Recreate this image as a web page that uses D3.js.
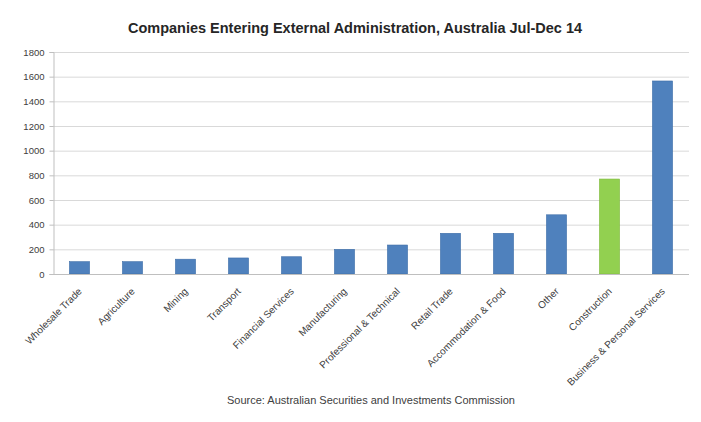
<!DOCTYPE html>
<html>
<head>
<meta charset="utf-8">
<script src="https://cdn.jsdelivr.net/npm/d3@7"></script>
<style>
  body { margin: 0; background: #fff; }
  svg { font-family: "Liberation Sans", Arial, sans-serif; }
</style>
</head>
<body>
<div id="chart"></div>
<script>
// values
const industries = [
  "Wholesale Trade", "Agriculture", "Mining", "Transport",
  "Financial Services", "Manufacturing", "Professional & Technical",
  "Retail Trade", "Accommodation & Food", "Other", "Construction",
  "Business & Personal Services"
]
const companies = [100, 100, 120, 130, 140, 200, 235, 330, 330, 480, 770, 1565]
const highlight = "Construction"
const yTicks = [0, 200, 400, 600, 800, 1000, 1200, 1400, 1600, 1800]

const width = 701
const height = 422
const margin = {top: 52, right: 12, bottom: 148, left: 53}

const svg = d3.select("#chart").append("svg")
    .attr("width", width)
    .attr("height", height)

const xScale = d3.scaleBand()
    .domain(industries)
    .range([margin.left, width - margin.right])
    .paddingInner(0.62)
    .paddingOuter(0.31)

const yScale = d3.scaleLinear()
    .domain([0, 1800])
    .range([height - margin.bottom, margin.top])

// gridlines
svg.append("g")
    .selectAll("line")
    .data(yTicks)
    .enter().append("line")
    .attr("x1", margin.left)
    .attr("x2", width - margin.right)
    .attr("y1", d => yScale(d) + 0.5)
    .attr("y2", d => yScale(d) + 0.5)
    .style("stroke", "#d9d9d9")
    .style("stroke-width", 1)

// y axis
const yAxis = svg.append("g")
    .attr("transform", `translate(${margin.left + 0.5},0)`)
    .call(d3.axisLeft(yScale).tickValues(yTicks).tickFormat(d3.format("d")).tickSize(4).tickPadding(5))
yAxis.select(".domain").style("stroke", "#bfbfbf")
yAxis.selectAll(".tick line").style("stroke", "#bfbfbf")
yAxis.selectAll("text").style("font-size", "9.5px").style("fill", "#404040")

// bars
svg.append("g")
    .selectAll("rect")
    .data(industries)
    .enter().append("rect")
    .attr("x", d => xScale(d))
    .attr("y", (d, i) => yScale(companies[i]))
    .attr("width", xScale.bandwidth())
    .attr("height", (d, i) => yScale(0) - yScale(companies[i]))
    .style("fill", d => d == highlight ? "#92d050" : "#4f81bd")
    .style("stroke", d => d == highlight ? "#7fba3c" : "#3f6fa8")
    .style("stroke-width", 0.6)

// x axis line
svg.append("line")
    .attr("x1", margin.left)
    .attr("x2", width - margin.right)
    .attr("y1", yScale(0) + 0.5)
    .attr("y2", yScale(0) + 0.5)
    .style("stroke", "#bfbfbf")

// category labels, slanted
svg.append("g")
    .selectAll("text")
    .data(industries)
    .enter().append("text")
    .attr("transform", d => `translate(${xScale(d) + xScale.bandwidth() / 2 + 3},${yScale(0) + 18}) rotate(-45)`)
    .attr("text-anchor", "end")
    .style("font-size", "10px")
    .style("fill", "#404040")
    .text(d => d)

// title
svg.append("text")
    .attr("x", 355)
    .attr("y", 33)
    .attr("text-anchor", "middle")
    .style("font-size", "14.5px")
    .style("font-weight", "bold")
    .style("fill", "#262626")
    .text("Companies Entering External Administration, Australia Jul-Dec 14")

// source note
svg.append("text")
    .attr("x", 371)
    .attr("y", 404)
    .attr("text-anchor", "middle")
    .style("font-size", "11px")
    .style("fill", "#404040")
    .text("Source: Australian Securities and Investments Commission")
</script>
</body>
</html>
